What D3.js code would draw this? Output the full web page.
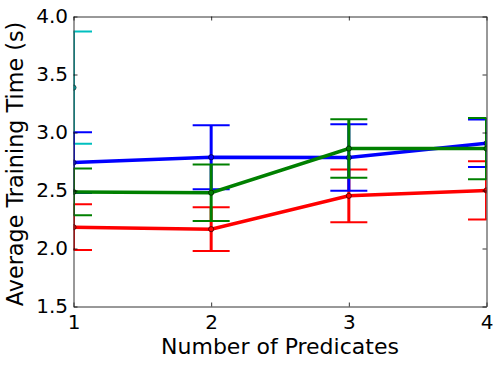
<!DOCTYPE html>
<html>
<head>
<meta charset="utf-8">
<script src="https://cdn.jsdelivr.net/npm/d3@7"></script>
<style>
  body { margin: 0; background: #fff; }
  text { font-family: "DejaVu Sans", sans-serif; fill: #000; }
  .axis path { stroke: #333; }
  .axis line { stroke: #000; stroke-width: 0.8; }
</style>
</head>
<body>
<div id="chart"></div>
<script>
// values
const predicates = [1, 2, 3, 4];
const blueMean = [2.741, 2.787, 2.784, 2.907];
const blueErr = [0.262, 0.276, 0.287, 0.204];
const greenMean = [2.488, 2.481, 2.862, 2.861];
const greenErr = [0.201, 0.243, 0.253, 0.264];
const redMean = [2.184, 2.167, 2.454, 2.501];
const redErr = [0.198, 0.189, 0.227, 0.251];
const cyanX = [1];
const cyanMean = [3.387];
const cyanErr = [0.483];
const yTicks = [1.5, 2.0, 2.5, 3.0, 3.5, 4.0];

const width = 500,
    height = 366,
    margin = ({ top: 16.5, right: 13.5, bottom: 59.5, left: 73.5 });

const svg = d3.select("#chart")
    .append("svg")
    .attr("width", width)
    .attr("height", height);

let x = d3.scaleLinear()
    .domain([1, 4])
    .range([margin.left, width - margin.right]);
let y = d3.scaleLinear()
    .domain([1.5, 4])
    .range([height - margin.bottom, margin.top]);

// clip everything to the axes box, like matplotlib does
svg.append("clipPath").attr("id", "plot")
  .append("rect")
    .attr("x", margin.left)
    .attr("y", margin.top)
    .attr("width", width - margin.left - margin.right)
    .attr("height", height - margin.top - margin.bottom);

const plot = svg.append("g").attr("clip-path", "url(#plot)");

// build series tables from the arrays
const series = [
  { color: "#00bfbf", xs: cyanX, mean: cyanMean, err: cyanErr },
  { color: "#ff0000", xs: predicates, mean: redMean, err: redErr },
  { color: "#0000ff", xs: predicates, mean: blueMean, err: blueErr },
  { color: "#008000", xs: predicates, mean: greenMean, err: greenErr }
];

const capHalf = 18.5;
let line = d3.line()
    .x(d => x(d.x))
    .y(d => y(d.m));

series.forEach(s => {
  const pts = s.xs.map((v, i) => ({ x: v, m: s.mean[i], e: s.err[i] }));
  const g = plot.append("g");

  // error bars
  g.selectAll(".bar").data(pts).join("line")
      .attr("x1", d => x(d.x)).attr("x2", d => x(d.x))
      .attr("y1", d => y(d.m - d.e)).attr("y2", d => y(d.m + d.e))
      .attr("stroke", s.color).attr("stroke-width", 3);
  [-1, 1].forEach(sign => {
    g.selectAll(".cap" + sign).data(pts).join("line")
        .attr("x1", d => x(d.x) - capHalf).attr("x2", d => x(d.x) + capHalf)
        .attr("y1", d => y(d.m + sign * d.e)).attr("y2", d => y(d.m + sign * d.e))
        .attr("stroke", s.color).attr("stroke-width", 2);
  });

  // the line itself
  g.append("path")
      .datum(pts)
      .attr("d", line)
      .attr("fill", "none")
      .attr("stroke", s.color)
      .attr("stroke-width", 3.5);

  // markers
  g.selectAll("circle").data(pts).join("circle")
      .attr("cx", d => x(d.x))
      .attr("cy", d => y(d.m))
      .attr("r", 2.6)
      .attr("fill", s.color)
      .attr("stroke", "#000")
      .attr("stroke-width", 0.6);
});

// axes, ticks pointing in on all four sides
svg.append("g")
    .attr("class", "axis")
    .attr("transform", `translate(0,${height - margin.bottom})`)
    .call(d3.axisBottom(x).tickValues(predicates).tickFormat(d3.format("d"))
      .tickSize(-4).tickSizeOuter(0).tickPadding(8))
    .call(g => g.selectAll("text").attr("font-size", 20).attr("font-family", "DejaVu Sans"));

svg.append("g")
    .attr("class", "axis")
    .attr("transform", `translate(${margin.left},0)`)
    .call(d3.axisLeft(y).tickValues(yTicks).tickFormat(d3.format(".1f"))
      .tickSize(-4).tickSizeOuter(0).tickPadding(5.5))
    .call(g => g.selectAll("text").attr("font-size", 20).attr("font-family", "DejaVu Sans"));

svg.append("g")
    .attr("class", "axis")
    .attr("transform", `translate(0,${margin.top})`)
    .call(d3.axisTop(x).tickValues(predicates).tickFormat("").tickSize(-4).tickSizeOuter(0));

svg.append("g")
    .attr("class", "axis")
    .attr("transform", `translate(${width - margin.right},0)`)
    .call(d3.axisRight(y).tickValues(yTicks).tickFormat("").tickSize(-4).tickSizeOuter(0));

// axis labels
svg.append("text")
    .attr("text-anchor", "middle")
    .attr("x", (margin.left + width - margin.right) / 2)
    .attr("y", 354)
    .attr("font-size", 22)
    .text("Number of Predicates");

svg.append("text")
    .attr("text-anchor", "middle")
    .attr("transform", `translate(23,164) rotate(-90)`)
    .attr("font-size", 22.3)
    .text("Average Training Time (s)");
</script>
</body>
</html>
